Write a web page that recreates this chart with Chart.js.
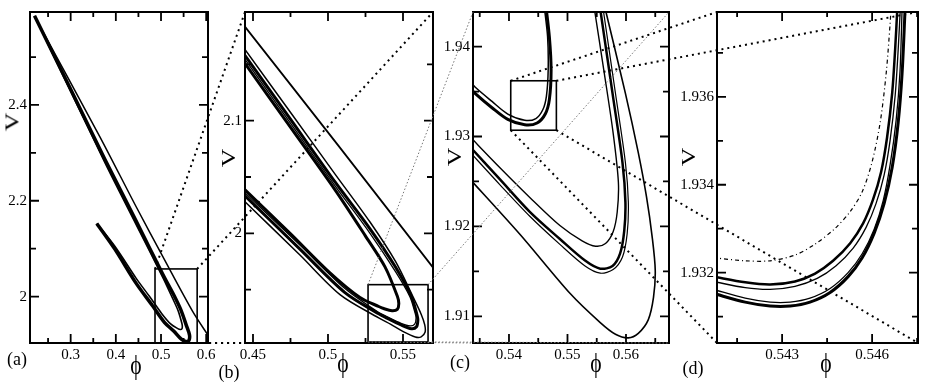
<!DOCTYPE html>
<html>
<head>
<meta charset="utf-8">
<script src="https://cdn.jsdelivr.net/npm/chart.js@4"></script>
<style>
body { margin: 0; background: #fff; }
#fig { position: relative; width: 926px; height: 382px; overflow: hidden; font-family: "Liberation Serif", "DejaVu Serif", serif; color: #000; }
#fig canvas { position: absolute; left: 0; top: 0; }
.lbl { position: absolute; line-height: 1; white-space: nowrap; }
.vt { font-size: 19px; transform: translate(-50%, -50%) rotate(-90deg) scaleX(1.35); }
.pt { font-size: 27px; transform: translate(-50%, -50%) scaleX(0.8); }
.pl { font-size: 18px; transform: translate(-50%, -50%); }
</style>
</head>
<body>
<div id="fig">
  <canvas id="ca" width="926" height="382"></canvas>
  <canvas id="cb" width="926" height="382"></canvas>
  <canvas id="cc" width="926" height="382"></canvas>
  <canvas id="cd" width="926" height="382"></canvas>
  <div class="lbl vt" style="left:12px;top:122px">V</div>
  <div class="lbl vt" style="left:228px;top:158px">V</div>
  <div class="lbl vt" style="left:454px;top:157px">V</div>
  <div class="lbl vt" style="left:688px;top:157px">V</div>
  <div class="lbl pt" style="left:136px;top:365px">ϕ</div>
  <div class="lbl pt" style="left:343px;top:363px">ϕ</div>
  <div class="lbl pt" style="left:596px;top:363px">ϕ</div>
  <div class="lbl pt" style="left:826px;top:363px">ϕ</div>
  <div class="lbl pl" style="left:17px;top:359px">(a)</div>
  <div class="lbl pl" style="left:229px;top:372px">(b)</div>
  <div class="lbl pl" style="left:460px;top:362px">(c)</div>
  <div class="lbl pl" style="left:693px;top:368px">(d)</div>
</div>
<script>
// ticks (all) and the ones that carry a label
const xTicksA = [0.25, 0.3, 0.35, 0.4, 0.45, 0.5, 0.55, 0.6];
const xLabA = [0.3, 0.4, 0.5, 0.6];
const yTicksA = [2.0, 2.1, 2.2, 2.3, 2.4, 2.5];
const yLabA = [2.0, 2.2, 2.4];
const xTicksB = [0.45, 0.475, 0.5, 0.525, 0.55];
const xLabB = [0.45, 0.5, 0.55];
const yTicksB = [1.95, 2.0, 2.05, 2.1, 2.15];
const yLabB = [2.0, 2.1];
const xTicksC = [0.535, 0.54, 0.545, 0.55, 0.555, 0.56, 0.565];
const xLabC = [0.54, 0.55, 0.56];
const yTicksC = [1.91, 1.915, 1.92, 1.925, 1.93, 1.935, 1.94];
const yLabC = [1.91, 1.92, 1.93, 1.94];
const xTicksD = [0.5415, 0.543, 0.5445, 0.546, 0.5475];
const xLabD = [0.543, 0.546];
const yTicksD = [1.931, 1.932, 1.933, 1.934, 1.935, 1.936, 1.937];
const yLabD = [1.932, 1.934, 1.936];

// zoom boxes [phi0, phi1, V0, V1]
const boxA = [0.4867, 0.58, 1.9031, 2.0577];
const boxB = [0.5267, 0.5667, 1.9035, 1.9544];
const boxC = [0.5403, 0.5481, 1.9307, 1.9362];

// panel (a)
const phiA1 = [0.22, 0.3644, 0.4447, 0.507, 0.57, 0.605];
const vA1 = [2.585, 2.334, 2.188, 2.078, 1.969, 1.918];
const phiA2 = [0.22, 0.2978, 0.3756, 0.4444, 0.5044, 0.5289, 0.5444, 0.556, 0.563, 0.562, 0.556, 0.545, 0.528, 0.508, 0.4813, 0.4447, 0.3978, 0.3578];
const vA2 = [2.586, 2.4371, 2.2866, 2.1588, 2.0454, 2.0021, 1.9711, 1.94, 1.92, 1.909, 1.906, 1.911, 1.9281, 1.9456, 1.9807, 2.0281, 2.099, 2.1526];
const phiA3 = [0.22, 0.3756, 0.4447, 0.5047, 0.5247, 0.538, 0.5463, 0.5472, 0.5462, 0.5427, 0.5371, 0.5213, 0.5013, 0.4747, 0.4447, 0.3978, 0.3578];
const vA3 = [2.586, 2.28, 2.1509, 2.0386, 1.9982, 1.9702, 1.9438, 1.9374, 1.9325, 1.9313, 1.9332, 1.943, 1.9649, 2.0, 2.0386, 2.105, 2.1526];

// panel (b)
const phiB1 = [0.444, 0.5073, 0.571];
const vB1 = [2.1845, 2.0772, 1.968];
const phiB2 = [0.444, 0.4747, 0.5047, 0.528, 0.545, 0.5566, 0.5621, 0.5645, 0.5647, 0.5621, 0.5582, 0.5505, 0.5419, 0.5338, 0.508, 0.4813, 0.444];
const vB2 = [2.1644, 2.1079, 2.0526, 2.01, 1.975, 1.9438, 1.9282, 1.9187, 1.9121, 1.9081, 1.908, 1.9125, 1.9191, 1.9249, 1.9456, 1.9807, 2.0289];
const phiB3 = [0.444, 0.4747, 0.5047, 0.528, 0.545, 0.5556, 0.5594, 0.5599, 0.559, 0.5556, 0.5487, 0.5385, 0.5338, 0.5113, 0.4813, 0.444];
const vB3 = [2.1591, 2.1018, 2.0456, 2.004, 1.97, 1.9438, 1.9271, 1.9227, 1.917, 1.9153, 1.9186, 1.9252, 1.9285, 1.9474, 1.986, 2.0341];
const phiB4 = [0.444, 0.4747, 0.5047, 0.528, 0.545, 0.5546, 0.5578, 0.5587, 0.5578, 0.5548, 0.5487, 0.5385, 0.5338, 0.5113, 0.4813, 0.444];
const vB4 = [2.1556, 2.0982, 2.0421, 2.0, 1.966, 1.9438, 1.9304, 1.9249, 1.9194, 1.9178, 1.9201, 1.9265, 1.9296, 1.9509, 1.9895, 2.0368];
const phiB5 = [0.444, 0.4747, 0.5047, 0.5247, 0.538, 0.5463, 0.5472, 0.5462, 0.5427, 0.5371, 0.5342, 0.5213, 0.5013, 0.4747, 0.444];
const vB5 = [2.1521, 2.0947, 2.0386, 1.9982, 1.9702, 1.9438, 1.9374, 1.9325, 1.9313, 1.9332, 1.9348, 1.943, 1.9649, 2.0, 2.0394];

// panel (c)
const phiC1 = [0.533, 0.5419, 0.5505, 0.5556, 0.5582, 0.5604, 0.5621, 0.5638, 0.5647, 0.565, 0.5645, 0.5635, 0.5621, 0.5599, 0.5563];
const vC1 = [1.9255, 1.9191, 1.9125, 1.9093, 1.908, 1.9076, 1.9081, 1.9096, 1.9121, 1.9151, 1.9187, 1.9233, 1.9282, 1.9348, 1.9446];
const phiC2 = [0.533, 0.5385, 0.5436, 0.5487, 0.553, 0.5556, 0.5577, 0.559, 0.5597, 0.5599, 0.5594, 0.5577, 0.5555];
const vC2 = [1.9291, 1.9252, 1.9216, 1.9186, 1.9162, 1.9153, 1.9156, 1.917, 1.9195, 1.9227, 1.9271, 1.9348, 1.9446];
const phiC3 = [0.533, 0.5385, 0.5436, 0.5487, 0.553, 0.5556, 0.5578, 0.5594, 0.5602, 0.5604, 0.5599, 0.5582, 0.556];
const vC3 = [1.9285, 1.9246, 1.9211, 1.918, 1.9156, 1.9148, 1.9152, 1.9166, 1.9192, 1.9227, 1.9271, 1.9348, 1.9446];
const phiC4 = [0.533, 0.5385, 0.5436, 0.5487, 0.5525, 0.5548, 0.5565, 0.5578, 0.5585, 0.5587, 0.5578, 0.5563, 0.5545];
const vC4 = [1.9302, 1.9265, 1.9232, 1.9201, 1.9184, 1.9178, 1.9181, 1.9194, 1.9216, 1.9249, 1.9304, 1.937, 1.9446];
const phiC5 = [0.533, 0.5342, 0.5371, 0.5398, 0.5427, 0.5448, 0.5462, 0.5469, 0.5472, 0.5469, 0.5463];
const vC5 = [1.9356, 1.9348, 1.9332, 1.9319, 1.9313, 1.9315, 1.9325, 1.9341, 1.9374, 1.9411, 1.9446];
const phiC6 = [0.533, 0.5342, 0.5371, 0.5398, 0.5427, 0.5446, 0.5458, 0.5464, 0.5467, 0.5466, 0.546];
const vC6 = [1.9364, 1.9355, 1.9339, 1.9325, 1.9318, 1.932, 1.933, 1.9345, 1.9374, 1.9411, 1.9446];

// panel (d)
const phiD1 = [0.5407, 0.54177, 0.5426, 0.54343, 0.5441, 0.5447, 0.54527, 0.5457, 0.54603, 0.5463, 0.5465, 0.54667, 0.54677, 0.54684];
const vD1 = [1.93191, 1.93178, 1.93173, 1.9318, 1.93198, 1.93227, 1.93267, 1.93312, 1.93366, 1.93429, 1.93508, 1.93609, 1.9371, 1.938];
const phiD2 = [0.5407, 0.54177, 0.5426, 0.54343, 0.54417, 0.5448, 0.54537, 0.5458, 0.54613, 0.5464, 0.5466, 0.54677, 0.54687, 0.54694];
const vD2 = [1.9318, 1.93166, 1.93162, 1.93169, 1.93187, 1.93216, 1.93256, 1.93303, 1.93357, 1.93422, 1.93501, 1.93604, 1.93708, 1.938];
const phiD3 = [0.5407, 0.54177, 0.5426, 0.54327, 0.54393, 0.5446, 0.5452, 0.54567, 0.54607, 0.54637, 0.5466, 0.5468, 0.54693, 0.547];
const vD3 = [1.93162, 1.93142, 1.93133, 1.93133, 1.93142, 1.93164, 1.932, 1.93243, 1.93299, 1.93364, 1.93445, 1.93546, 1.93658, 1.938];
const phiD4 = [0.5407, 0.54177, 0.5426, 0.54327, 0.54393, 0.5446, 0.5452, 0.54567, 0.54607, 0.5464, 0.54667, 0.54687, 0.547, 0.5471];
const vD4 = [1.93153, 1.93133, 1.93124, 1.93124, 1.93133, 1.93155, 1.93191, 1.93234, 1.9329, 1.93357, 1.9344, 1.93542, 1.93654, 1.938];
const phiD5 = [0.5407, 0.54177, 0.5426, 0.54343, 0.5441, 0.54477, 0.54527, 0.54567, 0.546, 0.54627, 0.54647, 0.5466, 0.54663];
const vD5 = [1.93234, 1.93227, 1.93227, 1.9324, 1.93265, 1.93301, 1.93339, 1.93384, 1.93452, 1.93542, 1.93654, 1.93766, 1.938];

const W = 926, H = 382;
const X_AXIS_H = 39;

// plot area [left, right, top, bottom], y axis box width, axis ranges, curves [phi, V, width, dash]
const panels = {
  a: { canvas: 'ca', area: [30, 208, 8, 343], yw: 28, x: [0.21, 0.604], y: [1.9031, 2.594],
       xt: xTicksA, xl: xLabA, yt: yTicksA, yl: yLabA, box: boxA,
       curves: [[phiA1, vA1, 1.5], [phiA2, vA2, 3.5], [phiA3, vA3, 1.6]] },
  b: { canvas: 'cb', area: [245, 433, 8, 343], yw: 36, x: [0.44467, 0.57], y: [1.9026, 2.1965],
       xt: xTicksB, xl: xLabB, yt: yTicksB, yl: yLabB, box: boxB,
       curves: [[phiB1, vB1, 1.8], [phiB2, vB2, 1.5], [phiB3, vB3, 3], [phiB4, vB4, 1.3], [phiB5, vB5, 3]] },
  c: { canvas: 'cc', area: [473, 669, 8, 343], yw: 40, x: [0.53385, 0.56735], y: [1.90703, 1.94385],
       xt: xTicksC, xl: xLabC, yt: yTicksC, yl: yLabC, box: boxC,
       curves: [[phiC1, vC1, 1.6], [phiC2, vC2, 2.5], [phiC3, vC3, 1.2], [phiC4, vC4, 1.4], [phiC5, vC5, 3], [phiC6, vC6, 1.5]] },
  d: { canvas: 'cd', area: [717, 918, 8, 343], yw: 46, x: [0.54083, 0.54753], y: [1.9304, 1.93793],
       xt: xTicksD, xl: xLabD, yt: yTicksD, yl: yLabD, box: null,
       curves: [[phiD1, vD1, 2.5], [phiD2, vD2, 1.3], [phiD3, vD3, 1.3], [phiD4, vD4, 3], [phiD5, vD5, 1.2, [4, 3, 1, 3]]] }
};

// which box feeds which panel, dotted line style
const links = [
  ['a', 'b', '#000', 2, [2, 4]],
  ['b', 'c', '#777', 1, [1.5, 2]],
  ['c', 'd', '#000', 2, [2, 4]]
];

const charts = {};

function fmt(v) {
  return String(+v.toFixed(4));
}

function axis(range, ticks, labels, horiz, size) {
  return {
    type: 'linear',
    position: horiz ? 'bottom' : 'left',
    min: range[0],
    max: range[1],
    grid: { display: false, drawTicks: false },
    border: { display: false },
    afterBuildTicks: s => { s.ticks = ticks.map(v => ({ value: v })); },
    afterFit: s => { if (horiz) s.height = size; else s.width = size; },
    ticks: {
      autoSkip: false,
      maxRotation: 0,
      padding: 3,
      color: '#000',
      font: { family: 'Liberation Serif', size: 15 },
      callback: v => labels.some(l => Math.abs(l - v) < 1e-9) ? fmt(v) : ''
    }
  };
}

// frame, inward ticks on all four sides, zoom box
const framePlugin = {
  id: 'frame',
  afterDraw(chart) {
    const ctx = chart.ctx, a = chart.chartArea;
    const sx = chart.scales.x, sy = chart.scales.y;
    ctx.save();
    ctx.strokeStyle = '#000';
    ctx.lineWidth = 1.8;
    ctx.beginPath();
    sx.ticks.forEach(t => {
      const p = sx.getPixelForValue(t.value), len = t.label ? 9 : 5;
      ctx.moveTo(p, a.bottom); ctx.lineTo(p, a.bottom - len);
      ctx.moveTo(p, a.top); ctx.lineTo(p, a.top + len);
    });
    sy.ticks.forEach(t => {
      const p = sy.getPixelForValue(t.value), len = t.label ? 9 : 6;
      ctx.moveTo(a.left, p); ctx.lineTo(a.left + len, p);
      ctx.moveTo(a.right, p); ctx.lineTo(a.right - len, p);
    });
    ctx.stroke();
    ctx.lineWidth = 2;
    ctx.strokeRect(a.left, a.top, a.right - a.left, a.bottom - a.top);
    const box = chart.options.plugins.frame.box;
    if (box) {
      const x0 = sx.getPixelForValue(box[0]), x1 = sx.getPixelForValue(box[1]);
      const y0 = sy.getPixelForValue(box[2]), y1 = sy.getPixelForValue(box[3]);
      ctx.lineWidth = 1.6;
      ctx.strokeRect(x0, y1, x1 - x0, y0 - y1);
    }
    ctx.restore();
  }
};

// dotted lines from each zoom box to the next panel (drawn on the last canvas)
const connectorPlugin = {
  id: 'connectors',
  afterDraw(chart) {
    const ctx = chart.ctx;
    ctx.save();
    links.forEach(([from, to, color, width, dash]) => {
      const src = charts[from];
      const dst = to === 'd' ? chart : charts[to];
      const box = panels[from].box;
      const sx = src.scales.x, sy = src.scales.y, a = dst.chartArea;
      const x0 = sx.getPixelForValue(box[0]), x1 = sx.getPixelForValue(box[1]);
      const y0 = sy.getPixelForValue(box[2]), y1 = sy.getPixelForValue(box[3]);
      const pairs = [
        [x0, y1, a.left, a.top], [x1, y1, a.right, a.top],
        [x0, y0, a.left, a.bottom], [x1, y0, a.right, a.bottom]
      ];
      ctx.strokeStyle = color;
      ctx.lineWidth = width;
      ctx.setLineDash(dash);
      ctx.beginPath();
      pairs.forEach(p => { ctx.moveTo(p[0], p[1]); ctx.lineTo(p[2], p[3]); });
      ctx.stroke();
    });
    ctx.restore();
  }
};

function makePanel(key) {
  const p = panels[key];
  const datasets = p.curves.map(c => ({
    data: c[0].map((phi, i) => ({ x: phi, y: c[1][i] })),
    showLine: true,
    pointRadius: 0,
    borderColor: '#000',
    borderWidth: c[2],
    borderDash: c[3] || [],
    tension: 0.3,
    fill: false
  }));
  const plugins = [framePlugin];
  if (key === 'd') plugins.push(connectorPlugin);
  charts[key] = new Chart(document.getElementById(p.canvas), {
    type: 'scatter',
    data: { datasets: datasets },
    options: {
      responsive: false,
      animation: false,
      devicePixelRatio: 1,
      events: [],
      layout: { padding: { left: p.area[0] - p.yw, right: W - p.area[1], top: p.area[2], bottom: H - X_AXIS_H - p.area[3] } },
      plugins: { legend: { display: false }, tooltip: { enabled: false }, frame: { box: p.box } },
      scales: { x: axis(p.x, p.xt, p.xl, true, X_AXIS_H), y: axis(p.y, p.yt, p.yl, false, p.yw) }
    },
    plugins: plugins
  });
}

['a', 'b', 'c', 'd'].forEach(makePanel);
</script>
</body>
</html>
